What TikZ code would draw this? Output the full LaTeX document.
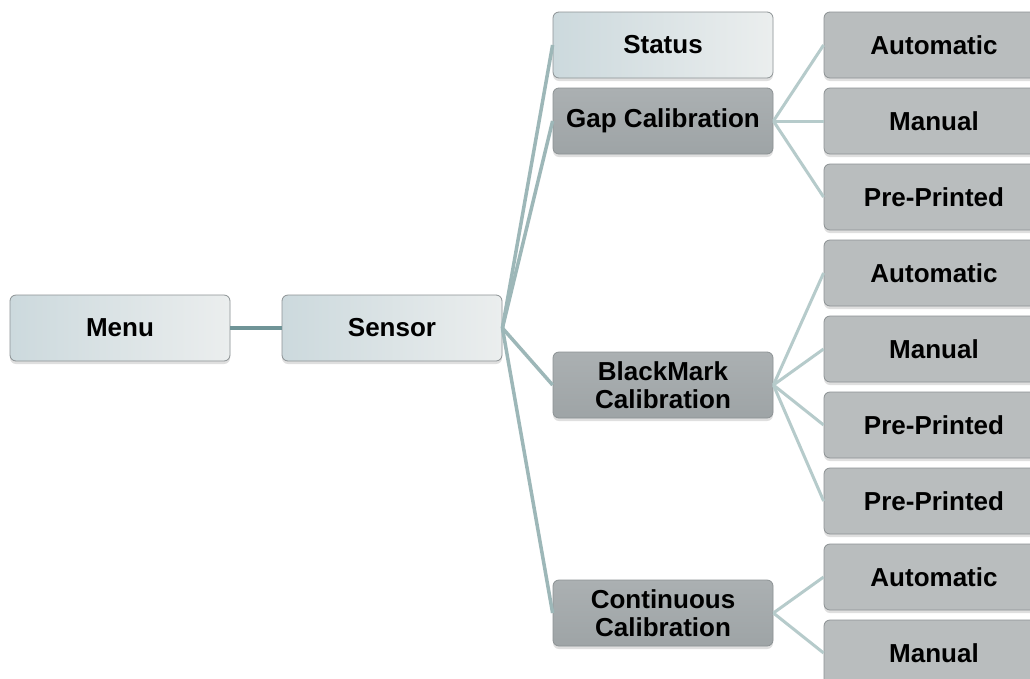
\documentclass[tikz,border=0pt]{standalone}
\usepackage{fontspec}
\setmainfont{Liberation Sans}
\usetikzlibrary{shadows}
\definecolor{topleft}{HTML}{CCD9DD}
\definecolor{topright}{HTML}{EBEEEE}
\definecolor{midtop}{HTML}{ABB0B2}
\definecolor{midbot}{HTML}{9EA4A6}
\definecolor{leafgray}{HTML}{B9BDBE}
\definecolor{boxedge}{HTML}{8C9294}
\definecolor{linkdark}{HTML}{6F9497}
\definecolor{linkmid}{HTML}{9DB7B8}
\definecolor{linklight}{HTML}{B6CBCB}
\begin{document}
\begin{tikzpicture}[x=1pt,y=-1pt,
    box/.style={rectangle,rounded corners=6pt,draw=boxedge,line width=.8pt,
        minimum width=220pt,minimum height=66pt,align=center,inner sep=0pt,
        font=\fontsize{26}{27.5}\selectfont\bfseries,
        drop shadow={shadow xshift=0pt,shadow yshift=-3pt,opacity=.25}},
    topbox/.style={box,left color=topleft,right color=topright},
    midbox/.style={box,top color=midtop,bottom color=midbot},
    leafbox/.style={box,fill=leafgray},
    rootlink/.style={linkdark,line width=3.5pt},
    sublink/.style={linkmid,line width=3.5pt},
    leaflink/.style={linklight,line width=3pt}]

    % Rahmen
    \clip (0,0) rectangle (1030,678);
    \fill[white] (0,0) rectangle (1030,678);

    % Stufe 1 und 2
    \node[topbox] (menu) at (120,328) {Menu};
    \node[topbox] (sensor) at (392,328) {Sensor};

    % Stufe 3
    \node[topbox] (status) at (663,45) {Status};
    \node[midbox] (gap) at (663,121) {Gap Calibration};
    \node[midbox] (blackmark) at (663,385) {BlackMark\\Calibration};
    \node[midbox] (continuous) at (663,613) {Continuous\\Calibration};

    % Stufe 4
    \node[leafbox] (gapauto) at (934,45) {Automatic};
    \node[leafbox] (gapmanual) at (934,121) {Manual};
    \node[leafbox] (gappre) at (934,197) {Pre-Printed};
    \node[leafbox] (bmauto) at (934,273) {Automatic};
    \node[leafbox] (bmmanual) at (934,349) {Manual};
    \node[leafbox] (bmpre) at (934,425) {Pre-Printed};
    \node[leafbox] (bmpretwo) at (934,501) {Pre-Printed};
    \node[leafbox] (contauto) at (934,577) {Automatic};
    \node[leafbox] (contmanual) at (934,653) {Manual};

    % Verbindungen
    \draw[rootlink] (menu.east) -- (sensor.west);

    \draw[sublink] (sensor.east) -- (status.west);
    \draw[sublink] (sensor.east) -- (gap.west);
    \draw[sublink] (sensor.east) -- (blackmark.west);
    \draw[sublink] (sensor.east) -- (continuous.west);

    \draw[leaflink] (gap.east) -- (gapauto.west);
    \draw[leaflink] (gap.east) -- (gapmanual.west);
    \draw[leaflink] (gap.east) -- (gappre.west);

    \draw[leaflink] (blackmark.east) -- (bmauto.west);
    \draw[leaflink] (blackmark.east) -- (bmmanual.west);
    \draw[leaflink] (blackmark.east) -- (bmpre.west);
    \draw[leaflink] (blackmark.east) -- (bmpretwo.west);

    \draw[leaflink] (continuous.east) -- (contauto.west);
    \draw[leaflink] (continuous.east) -- (contmanual.west);

\end{tikzpicture}
\end{document}
